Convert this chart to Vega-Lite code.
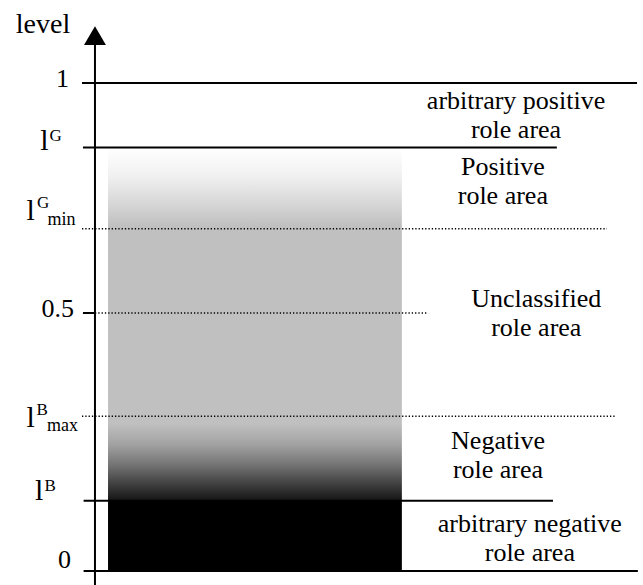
{
  "$schema": "https://vega.github.io/schema/vega-lite/v6.json",
  "width": 643,
  "height": 585,
  "autosize": {"type": "none"},
  "padding": 0,
  "background": "white",
  "config": {"view": {"stroke": null}},
  "datasets": {
    "solidLines": [
      {"name": "1", "x1": 12.75, "x2": 99.07, "level": 1},
      {"name": "lG", "x1": 12.9, "x2": 86.6, "level": 0.86},
      {"name": "0.5 tick", "x1": 12.9, "x2": 14.77, "level": 0.5},
      {"name": "lB", "x1": 13.0, "x2": 86.0, "level": 0.136},
      {"name": "0", "x1": 13.0, "x2": 99.2, "level": 0}
    ],
    "dottedLines": [
      {"name": "lGmin", "x1": 12.75, "x2": 94.4, "level": 0.683},
      {"name": "0.5", "x1": 14.77, "x2": 66.6, "level": 0.5},
      {"name": "lBmax", "x1": 12.75, "x2": 95.6, "level": 0.3}
    ],
    "gradientBar": [{"x1": 16.8, "x2": 62.5, "top": 0.858, "bottom": 0.136}],
    "blackBar": [{"x1": 16.8, "x2": 62.5, "top": 0.136, "bottom": 0}],
    "axisLine": [{"x": 14.77, "bottom": -0.03, "top": 1.089}],
    "arrow": [{"x": 14.77, "level": 1.103}],
    "tickLabels": [
      {"label": "1", "x": 10.73, "level": 0.9913},
      {"label": "0.5", "x": 11.51, "level": 0.4922},
      {"label": "0", "x": 11.04, "level": 0.0058}
    ],
    "title": [{"label": "level", "x": 6.69, "level": 1.1087}],
    "ells": [
      {"label": "l", "x": 6.25, "level": 0.854},
      {"label": "l", "x": 4.12, "level": 0.7022},
      {"label": "l", "x": 4.12, "level": 0.279},
      {"label": "l", "x": 5.45, "level": 0.1376}
    ],
    "supers": [
      {"label": "G", "x": 7.7, "level": 0.874},
      {"label": "G", "x": 5.75, "level": 0.7283},
      {"label": "B", "x": 5.68, "level": 0.3023},
      {"label": "B", "x": 6.92, "level": 0.155}
    ],
    "subs": [
      {"label": "min", "x": 7.39, "level": 0.6913},
      {"label": "max", "x": 7.31, "level": 0.2713}
    ],
    "areas": [
      {"label": "arbitrary positive\nrole area", "x": 80.25, "level": 0.943},
      {"label": "Positive\nrole area", "x": 78.2, "level": 0.8},
      {"label": "Unclassified\nrole area", "x": 83.4, "level": 0.513},
      {"label": "Negative\nrole area", "x": 77.45, "level": 0.236},
      {"label": "arbitrary negative\nrole area", "x": 82.4, "level": 0.0756}
    ]
  },
  "layer": [
    {
      "data": {"name": "gradientBar"},
      "mark": {
        "type": "rect",
        "fill": {
          "gradient": "linear", "x1": 0, "y1": 0, "x2": 0, "y2": 1,
          "stops": [
            {"offset": 0, "color": "#ffffff"},
            {"offset": 0.08, "color": "#f0f0f0"},
            {"offset": 0.16, "color": "#d6d6d6"},
            {"offset": 0.22, "color": "#c0c0c0"},
            {"offset": 0.78, "color": "#c0c0c0"},
            {"offset": 0.84, "color": "#a2a2a2"},
            {"offset": 0.9, "color": "#727272"},
            {"offset": 0.95, "color": "#424242"},
            {"offset": 1, "color": "#141414"}
          ]
        }
      },
      "encoding": {
        "x": {"field": "x1", "type": "quantitative", "scale": {"type": "linear", "domain": [0, 100], "nice": false, "zero": false}, "axis": null},
        "x2": {"field": "x2"},
        "y": {"field": "top", "type": "quantitative", "scale": {"type": "linear", "domain": [0, 0.5, 1], "range": [571, 313, 83], "nice": false, "zero": false}, "axis": null},
        "y2": {"field": "bottom"}
      }
    },
    {
      "data": {"name": "blackBar"},
      "mark": {"type": "rect", "fill": "black"},
      "encoding": {
        "x": {"field": "x1", "type": "quantitative"},
        "x2": {"field": "x2"},
        "y": {"field": "top", "type": "quantitative"},
        "y2": {"field": "bottom"}
      }
    },
    {
      "data": {"name": "solidLines"},
      "mark": {"type": "rule", "stroke": "black", "strokeWidth": 2},
      "encoding": {
        "x": {"field": "x1", "type": "quantitative"},
        "x2": {"field": "x2"},
        "y": {"field": "level", "type": "quantitative"}
      }
    },
    {
      "data": {"name": "dottedLines"},
      "mark": {"type": "rule", "stroke": "black", "strokeWidth": 1.5, "strokeDash": [1.3, 2]},
      "encoding": {
        "x": {"field": "x1", "type": "quantitative"},
        "x2": {"field": "x2"},
        "y": {"field": "level", "type": "quantitative"}
      }
    },
    {
      "data": {"name": "axisLine"},
      "mark": {"type": "rule", "stroke": "black", "strokeWidth": 2},
      "encoding": {
        "x": {"field": "x", "type": "quantitative"},
        "y": {"field": "bottom", "type": "quantitative"},
        "y2": {"field": "top"}
      }
    },
    {
      "data": {"name": "arrow"},
      "mark": {"type": "point", "shape": "triangle-up", "filled": true, "fill": "black", "size": 480, "opacity": 1},
      "encoding": {
        "x": {"field": "x", "type": "quantitative"},
        "y": {"field": "level", "type": "quantitative"}
      }
    },
    {
      "data": {"name": "tickLabels"},
      "mark": {"type": "text", "font": "Times New Roman, Liberation Serif, DejaVu Serif, serif", "fontSize": 26, "align": "right", "baseline": "alphabetic", "color": "black"},
      "encoding": {
        "x": {"field": "x", "type": "quantitative"},
        "y": {"field": "level", "type": "quantitative"},
        "text": {"field": "label"}
      }
    },
    {
      "data": {"name": "title"},
      "mark": {"type": "text", "font": "Times New Roman, Liberation Serif, DejaVu Serif, serif", "fontSize": 28, "align": "center", "baseline": "alphabetic", "color": "black"},
      "encoding": {
        "x": {"field": "x", "type": "quantitative"},
        "y": {"field": "level", "type": "quantitative"},
        "text": {"field": "label"}
      }
    },
    {
      "data": {"name": "ells"},
      "mark": {"type": "text", "font": "Times New Roman, Liberation Serif, DejaVu Serif, serif", "fontSize": 30, "align": "left", "baseline": "alphabetic", "color": "black"},
      "encoding": {
        "x": {"field": "x", "type": "quantitative"},
        "y": {"field": "level", "type": "quantitative"},
        "text": {"field": "label"}
      }
    },
    {
      "data": {"name": "supers"},
      "mark": {"type": "text", "font": "Times New Roman, Liberation Serif, DejaVu Serif, serif", "fontSize": 17, "align": "left", "baseline": "alphabetic", "color": "black"},
      "encoding": {
        "x": {"field": "x", "type": "quantitative"},
        "y": {"field": "level", "type": "quantitative"},
        "text": {"field": "label"}
      }
    },
    {
      "data": {"name": "subs"},
      "mark": {"type": "text", "font": "Times New Roman, Liberation Serif, DejaVu Serif, serif", "fontSize": 18, "align": "left", "baseline": "alphabetic", "color": "black"},
      "encoding": {
        "x": {"field": "x", "type": "quantitative"},
        "y": {"field": "level", "type": "quantitative"},
        "text": {"field": "label"}
      }
    },
    {
      "data": {"name": "areas"},
      "mark": {"type": "text", "font": "Times New Roman, Liberation Serif, DejaVu Serif, serif", "fontSize": 26, "align": "center", "baseline": "alphabetic", "lineBreak": "\n", "lineHeight": 29, "color": "black"},
      "encoding": {
        "x": {"field": "x", "type": "quantitative"},
        "y": {"field": "level", "type": "quantitative"},
        "text": {"field": "label"}
      }
    }
  ]
}
